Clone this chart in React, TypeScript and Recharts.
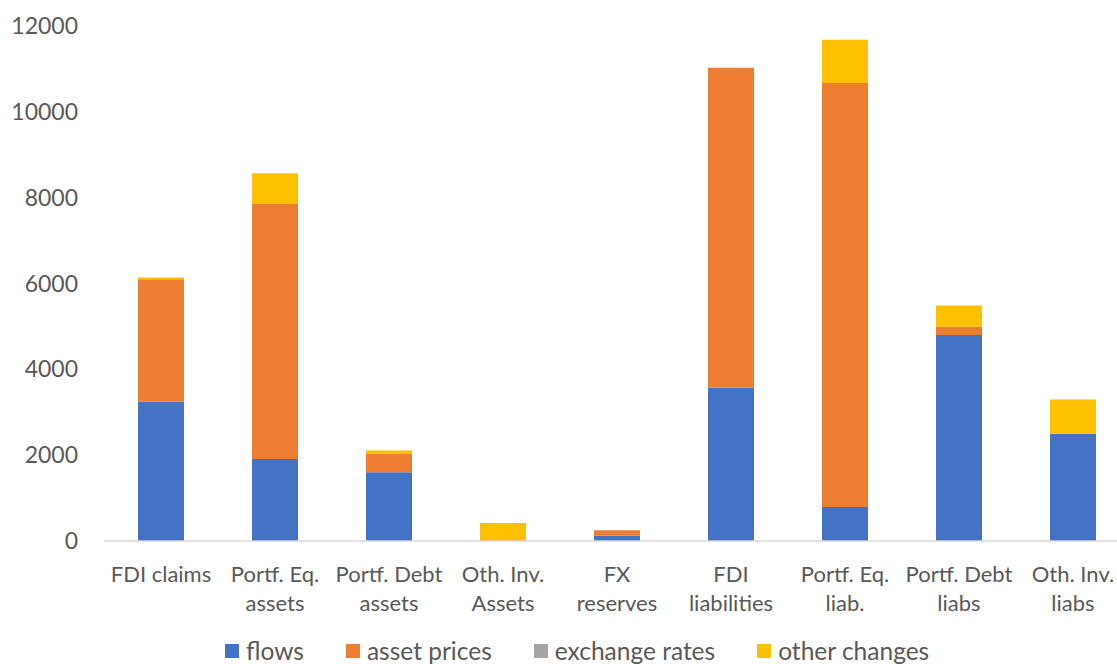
import React from "react";
import { BarChart, Bar, XAxis, YAxis, Legend } from "recharts";

const categories = [
  "FDI claims",
  "Portf. Eq.\nassets",
  "Portf. Debt\nassets",
  "Oth. Inv.\nAssets",
  "FX\nreserves",
  "FDI\nliabilities",
  "Portf. Eq.\nliab.",
  "Portf. Debt\nliabs",
  "Oth. Inv.\nliabs",
];

const flows = [3250, 1910, 1600, 0, 125, 3570, 790, 4800, 2500];
const assetPrices = [2850, 5940, 440, 0, 125, 7460, 9880, 190, 0];
const exchangeRates = [0, 0, 0, 0, 0, 0, 0, 0, 0];
const otherChanges = [40, 720, 70, 420, 0, 0, 1010, 500, 800];

const yTicks = [0, 2000, 4000, 6000, 8000, 10000, 12000];

const series = [
  { key: "flows", name: "flows", color: "#4472C4" },
  { key: "assetPrices", name: "asset prices", color: "#ED7D31" },
  { key: "exchangeRates", name: "exchange rates", color: "#A5A5A5" },
  { key: "otherChanges", name: "other changes", color: "#FFC000" },
];

const data = categories.map((c, i) => ({
  category: c,
  flows: flows[i],
  assetPrices: assetPrices[i],
  exchangeRates: exchangeRates[i],
  otherChanges: otherChanges[i],
}));

const FONT = "Lato, 'Open Sans', sans-serif";
const TEXT = "#595959";

function CategoryTick(props: any) {
  const { x, y, payload } = props;
  const lines = String(payload.value).split("\n");
  return (
    <text x={x} y={y} textAnchor="middle" fill={TEXT} fontSize={22} fontFamily={FONT}>
      {lines.map((l, i) => (
        <tspan key={i} x={x} dy={i === 0 ? 41 : 29}>
          {l}
        </tspan>
      ))}
    </text>
  );
}

function LegendContent() {
  return (
    <div
      style={{
        height: 38,
        display: "flex",
        alignItems: "flex-end",
        paddingLeft: 225,
        fontFamily: FONT,
        fontSize: 24.5,
        color: TEXT,
      }}
    >
      {series.map((s) => (
        <div
          key={s.key}
          style={{ display: "flex", alignItems: "center", marginRight: 42, lineHeight: "26px" }}
        >
          <span
            style={{
              display: "inline-block",
              width: 14,
              height: 14,
              background: s.color,
              marginRight: 7,
            }}
          />
          {s.name}
        </div>
      ))}
    </div>
  );
}

export default function App() {
  return (
    <div
      style={{
        position: "absolute",
        left: 0,
        top: 0,
        width: 1117,
        height: 664,
        overflow: "hidden",
        background: "#fff",
      }}
    >
      <BarChart
        width={1140}
        height={664}
        data={data}
        margin={{ top: 26, right: 10, left: 0, bottom: 0 }}
        barSize={46}
      >
        <XAxis
          dataKey="category"
          interval={0}
          height={85}
          tickLine={false}
          tickSize={0}
          tickMargin={0}
          axisLine={{ stroke: "#d9d9d9", strokeWidth: 1.5 }}
          tick={<CategoryTick />}
        />
        <YAxis
          width={104}
          domain={[0, 12000]}
          ticks={yTicks}
          axisLine={false}
          tickLine={false}
          tickSize={0}
          tickMargin={26}
          tick={{ fill: TEXT, fontSize: 23, fontFamily: FONT }}
        />
        <Legend
          verticalAlign="bottom"
          content={<LegendContent />}
          wrapperStyle={{ left: 0, width: 1117 }}
        />
        {series.map((s) => (
          <Bar
            key={s.key}
            dataKey={s.key}
            name={s.name}
            stackId="a"
            fill={s.color}
            isAnimationActive={false}
          />
        ))}
      </BarChart>
    </div>
  );
}
